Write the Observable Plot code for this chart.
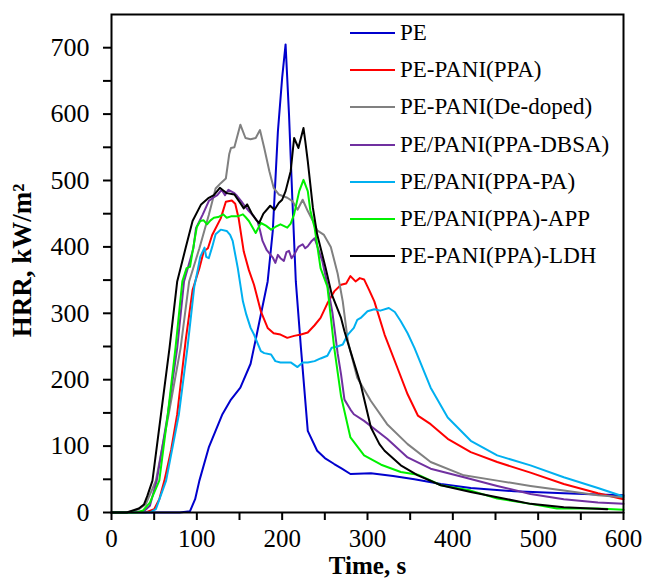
<!DOCTYPE html>
<html><head><meta charset="utf-8">
<script src="https://cdn.jsdelivr.net/npm/d3@7"></script>
<script src="https://cdn.jsdelivr.net/npm/@observablehq/plot@0.6"></script>
<style>
body{margin:0;background:#fff;}
#chart{position:relative;width:646px;height:587px;font-family:"Liberation Serif",serif;}
.row{position:absolute;left:350px;height:26px;display:flex;align-items:center;white-space:nowrap;font-size:23px;color:#000;font-family:"Liberation Serif",serif;}
.row .sw{display:inline-block;width:45px;height:2px;margin-right:5px;}
</style></head><body><div id="chart"></div>
<script>
// ---- data ----
const seriesNames = ["PE","PE-PANI(PPA)","PE-PANI(De-doped)","PE/PANI(PPA-DBSA)","PE/PANI(PPA-PA)","PE/PANI(PPA)-APP","PE-PANI(PPA)-LDH"];
const seriesColors = ["#0000CD","#FF0000","#808080","#7030A0","#00B0F0","#00F000","#000000"];

const PE_t   = [0,80,92,98,103,114,130,140,151,163,171,183,189,195,200,204,208,212,216,222,230,241,250,261,270,280,304,330,355,386,421,472,530,570,600];
const PE_hrr = [0,0,2,20,48,98,148,170,188,224,273,348,424,574,655,705,600,470,348,248,123,93,82,73,66,58,59,55,50,43,37,32,29,27,26];

const PPA_t   = [0,40,50,56,62,70,77,87,95,103,108,113,118,128,134,141,145,149,155,161,167,175,183,190,198,206,214,222,230,238,245,253,261,269,275,280,286,291,296,302,308,320,335,347,359,374,394,421,452,491,530,570,600];
const PPA_hrr = [0,0,5,20,48,95,148,260,335,368,393,398,418,443,468,470,465,443,393,365,343,303,278,270,268,263,266,268,271,282,293,315,333,343,345,356,348,353,351,335,318,268,218,178,146,133,111,91,76,60,43,29,20];

const DED_t   = [0,15,25,32,40,52,67,81,91,103,114,122,128,134,138,140,144,151,157,163,169,174,179,185,190,196,206,212,218,224,230,236,241,249,257,265,271,277,288,304,323,347,374,413,452,491,530,570,600];
const DED_hrr = [0,0,2,5,12,48,148,248,348,398,448,488,496,503,540,549,550,584,564,562,564,576,549,514,489,479,474,469,456,471,454,439,425,418,400,360,318,258,203,168,133,103,76,56,48,40,33,26,23];

const DBSA_t   = [0,25,38,45,53,66,77,85,96,99,107,114,119,124,129,133,137,144,147,152,156,161,166,171,174,177,182,189,192,195,198,202,205,208,211,214,219,224,227,230,234,238,247,253,259,265,269,273,280,284,296,323,347,374,413,452,491,530,570,600];
const DBSA_hrr = [0,0,2,10,48,148,248,348,398,428,449,469,474,478,486,478,486,481,477,469,462,454,447,439,425,409,395,384,376,388,383,379,392,394,383,388,400,404,398,401,408,413,379,343,300,240,208,170,155,148,138,111,83,66,53,40,28,20,15,13];

const PA_t   = [0,45,52,64,79,89,97,101,104,109,111,114,118,122,128,135,139,142,148,154,158,163,167,175,179,187,192,198,204,210,218,224,230,238,245,253,258,265,271,277,284,288,292,300,308,315,325,332,339,347,355,374,394,421,452,491,530,570,600];
const PA_hrr = [0,0,5,48,148,248,340,365,385,399,385,383,400,419,426,424,418,409,368,318,298,278,268,243,240,238,228,226,226,226,219,226,226,228,232,236,248,250,253,268,278,290,293,303,306,304,308,302,288,270,248,188,143,108,86,71,53,37,24];

const APP_t   = [0,30,37,45,56,66,75,83,88,92,97,100,104,108,112,116,120,125,131,135,140,148,154,157,161,165,169,175,181,187,192,198,206,210,214,220,225,230,233,238,245,253,261,269,280,296,316,339,359,386,421,452,491,522,570,600];
const APP_hrr = [0,0,3,15,48,148,248,348,368,370,408,430,439,440,434,440,444,445,449,444,446,446,449,445,439,430,421,436,432,426,430,434,429,435,449,484,501,484,455,429,368,340,248,175,113,86,72,61,57,41,33,21,13,6,6,4];

const LDH_t   = [0,18,25,32,38,42,48,58,68,77,87,95,105,114,120,127,131,135,144,152,155,159,165,170,173,178,186,191,196,200,204,210,214,219,225,227,230,236,241,251,258,269,273,280,292,304,314,320,339,359,386,421,452,491,530,581];
const LDH_hrr = [0,0,3,6,12,25,48,148,248,348,399,439,464,474,478,489,485,481,479,464,458,464,449,440,436,450,462,456,466,471,484,514,564,549,579,560,529,459,419,368,329,293,273,243,193,128,103,93,71,56,41,31,23,13,8,5];

const xMajor = [0,100,200,300,400,500,600];
const xMinor = [50,150,250,350,450,550];
const yMajor = [0,100,200,300,400,500,600,700];
const yMinor = [50,150,250,350,450,550,650];

// ---- build table ----
const seriesData = [[PE_t,PE_hrr],[PPA_t,PPA_hrr],[DED_t,DED_hrr],[DBSA_t,DBSA_hrr],[PA_t,PA_hrr],[APP_t,APP_hrr],[LDH_t,LDH_hrr]];
const rows = seriesData.flatMap(([t,v],k)=>t.map((tt,i)=>({series:seriesNames[k], time:tt, hrr:v[i]})));

const plot = Plot.plot({
  width:646, height:587,
  marginLeft:111, marginRight:23, marginTop:14, marginBottom:75,
  style:{fontFamily:"Liberation Serif", fontSize:"25px", color:"black", background:"white"},
  x:{domain:[0,600]},
  y:{domain:[0,750]},
  color:{domain:seriesNames, range:seriesColors},
  marks:[
    Plot.line(rows,{x:"time",y:"hrr",z:"series",stroke:"series",strokeWidth:2}),
    Plot.frame({stroke:"black",strokeWidth:2}),
    Plot.axisX({ticks:xMajor, tickSize:8, tickPadding:9, strokeWidth:2, label:null, fontSize:25, tickFormat:d=>String(d)}),
    Plot.axisX({ticks:xMinor, tickSize:8, strokeWidth:2, label:null, tickFormat:()=>""}),
    Plot.axisY({ticks:yMajor, tickSize:8, tickPadding:14, strokeWidth:2, label:null, fontSize:26, tickFormat:d=>String(d)}),
    Plot.axisY({ticks:yMinor, tickSize:8, strokeWidth:2, label:null, tickFormat:()=>""}),
    Plot.text(["Time, s"],{frameAnchor:"bottom", textAnchor:"middle", dy:61, fontWeight:"bold", fontSize:25}),
    Plot.text(["HRR, kW/m²"],{frameAnchor:"left", textAnchor:"middle", rotate:-90, dx:-89, dy:-3, fontWeight:"bold", fontSize:27})
  ]
});
const chart = document.getElementById("chart");
chart.appendChild(plot);

// legend overlay
seriesNames.forEach((name,i)=>{
  const row = document.createElement("div");
  row.className = "row";
  row.style.top = (33 + i*37.2 - 13) + "px";
  const sw = document.createElement("span");
  sw.className = "sw";
  sw.style.background = seriesColors[i];
  row.appendChild(sw);
  row.appendChild(document.createTextNode(name));
  chart.appendChild(row);
});
</script></body></html>
